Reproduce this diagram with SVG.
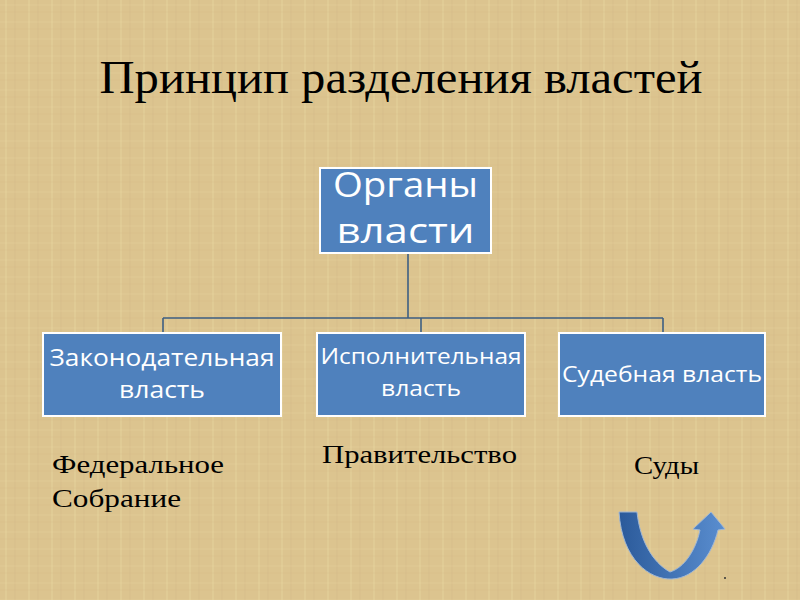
<svg xmlns="http://www.w3.org/2000/svg" width="800" height="600" viewBox="0 0 800 600">
<defs>
<pattern id="tex" width="23" height="17" patternUnits="userSpaceOnUse">
<rect width="23" height="17" fill="#dcc48f"/>
<line x1="6" y1="0" x2="6" y2="17" stroke="#eedca8" stroke-width="1.5" opacity="0.35"/>
<line x1="15" y1="0" x2="15" y2="17" stroke="#c9b07a" stroke-width="1" opacity="0.25"/>
<line x1="0" y1="5" x2="23" y2="5" stroke="#ecd9a5" stroke-width="1" opacity="0.3"/>
<line x1="0" y1="12" x2="23" y2="12" stroke="#cdb27c" stroke-width="1" opacity="0.2"/>
</pattern>
<linearGradient id="ag" x1="0" y1="0" x2="1" y2="0">
<stop offset="0" stop-color="#2b5a9a"/>
<stop offset="1" stop-color="#5a8ed0"/>
</linearGradient>
<style>
.box{fill:#4f81bd;stroke:#ffffff;stroke-width:2}
.bt{fill:#ffffff;font-family:"Open Sans","Liberation Sans",sans-serif;text-anchor:middle}
.lbl{fill:#000000;font-family:"Liberation Serif",serif;font-size:26px}
.con{stroke:#3e5f83;stroke-width:1.6;fill:none}
</style>
</defs>
<rect width="800" height="600" fill="url(#tex)"/>
<text x="401" y="93" text-anchor="middle" font-family="'Liberation Serif',serif" font-size="47" fill="#000" textLength="603" lengthAdjust="spacingAndGlyphs">Принцип разделения властей</text>
<g id="connectors">
<path class="con" d="M408,253 V318 M163,318 H663 M163,318 V333 M421,318 V333 M663,318 V333"/>
</g>
<g id="organy">
<rect class="box" x="320" y="168" width="171" height="85"/>
<text class="bt" x="405.5" y="197" font-size="34" textLength="145" lengthAdjust="spacingAndGlyphs">Органы</text>
<text class="bt" x="405.5" y="243" font-size="34" textLength="138" lengthAdjust="spacingAndGlyphs">власти</text>
</g>
<g id="zakon">
<rect class="box" x="43" y="333" width="238" height="83"/>
<text class="bt" x="162" y="366" font-size="23" textLength="225" lengthAdjust="spacingAndGlyphs">Законодательная</text>
<text class="bt" x="162" y="398" font-size="23" textLength="86" lengthAdjust="spacingAndGlyphs">власть</text>
</g>
<g id="ispoln">
<rect class="box" x="317" y="333" width="208" height="83"/>
<text class="bt" x="421" y="364" font-size="22" textLength="201" lengthAdjust="spacingAndGlyphs">Исполнительная</text>
<text class="bt" x="421" y="396" font-size="22" textLength="80" lengthAdjust="spacingAndGlyphs">власть</text>
</g>
<g id="sud">
<rect class="box" x="559" y="333" width="206" height="83"/>
<text class="bt" x="662" y="382" font-size="22" textLength="200" lengthAdjust="spacingAndGlyphs">Судебная власть</text>
</g>
<text class="lbl" x="52" y="473" textLength="172" lengthAdjust="spacingAndGlyphs">Федеральное</text>
<text class="lbl" x="52" y="507" textLength="129" lengthAdjust="spacingAndGlyphs">Собрание</text>
<text class="lbl" x="322" y="463" textLength="195" lengthAdjust="spacingAndGlyphs">Правительство</text>
<text class="lbl" x="634" y="474" textLength="65" lengthAdjust="spacingAndGlyphs">Суды</text>
<path d="M619,512 C622,560 650,580 672,579 C695,578 712,555 718,530 L725,529 L711,512 L693,529 L700,530 C696,550 684,568 670,572 C652,562 640,540 637,512 Z" fill="url(#ag)" stroke="#9fb7d6" stroke-width="1"/>
<circle cx="725" cy="578" r="1" fill="#333"/>
</svg>
